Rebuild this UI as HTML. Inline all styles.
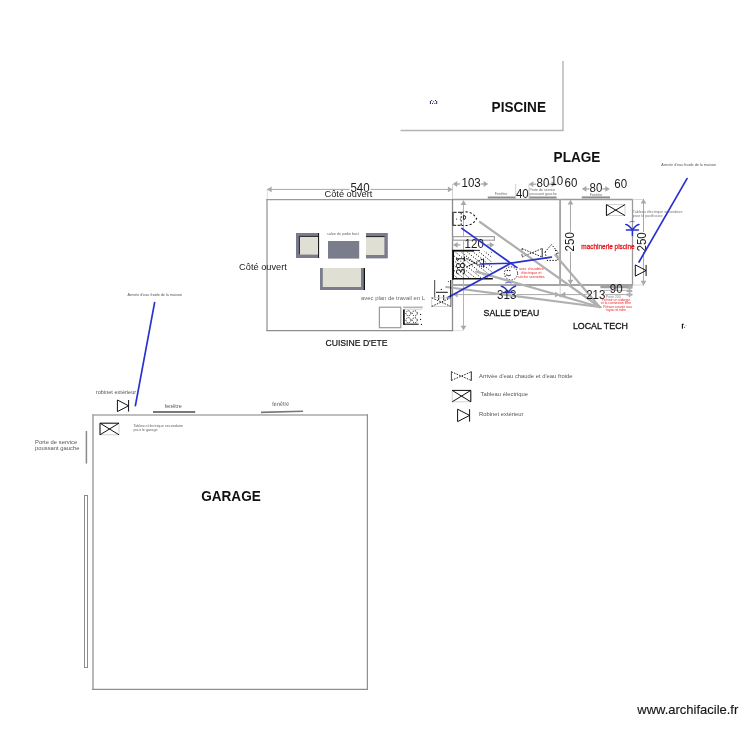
<!DOCTYPE html>
<html lang="fr"><head><meta charset="utf-8"><title>Plan - archifacile</title>
<style>
html,body{margin:0;padding:0;background:#fff;}
body{width:750px;height:750px;overflow:hidden;}
svg{display:block;will-change:transform;}
svg text{font-family:"Liberation Sans",Arial,sans-serif;}
</style></head><body>
<svg width="750" height="750" viewBox="0 0 750 750">
<rect width="750" height="750" fill="#ffffff"/>
<line x1="563" y1="61" x2="563" y2="131" stroke="#b4b4b4" stroke-width="1.4" />
<line x1="400.5" y1="130.5" x2="563.5" y2="130.5" stroke="#b4b4b4" stroke-width="1.4" />
<text transform="translate(518.8 112) scale(0.93 1)" font-size="14.62" fill="#111" text-anchor="middle" font-weight="bold" >PISCINE</text>
<g fill="#1c1c96"><rect x="429.9" y="101" width="1" height="3"/><rect x="436.2" y="101" width="1" height="3"/><rect x="431.2" y="100" width="1" height="1"/><rect x="435" y="100" width="1" height="1"/><rect x="433.1" y="101.2" width="1" height="1"/><rect x="432" y="103" width="1" height="1"/><rect x="434.3" y="103" width="1" height="1"/></g>
<text transform="translate(577 161.8) scale(0.93 1)" font-size="14.62" fill="#111" text-anchor="middle" font-weight="bold" >PLAGE</text>
<line x1="267" y1="199" x2="267" y2="331.1" stroke="#a6a6a6" stroke-width="1.5" />
<line x1="266.3" y1="199.6" x2="453" y2="199.6" stroke="#9a9a9a" stroke-width="1.3" />
<line x1="266.3" y1="330.6" x2="453" y2="330.6" stroke="#8e8e8e" stroke-width="1.1" />
<line x1="452.5" y1="330.6" x2="463.5" y2="330.6" stroke="#d4d4d4" stroke-width="0.7" />
<line x1="267" y1="189.4" x2="452.5" y2="189.4" stroke="#a8a8a8" stroke-width="1" />
<polygon points="267,189.4 271.60,186.50 271.60,192.30" fill="#a8a8a8"/>
<polygon points="452.5,189.4 447.90,192.30 447.90,186.50" fill="#a8a8a8"/>
<line x1="267.3" y1="189.5" x2="267.3" y2="199" stroke="#c8c8c8" stroke-width="0.6" />
<line x1="452.5" y1="184" x2="452.5" y2="200" stroke="#c4c4c4" stroke-width="0.8" />
<rect x="349.6" y="183" width="20.8" height="9.5" fill="#fff" stroke="none" stroke-width="1" />
<text transform="translate(360 192.3) scale(0.95 1)" font-size="12.11" fill="#1c1c1c" text-anchor="middle" font-weight="normal" >540</text>
<text transform="translate(348.4 196.8) scale(0.95 1)" font-size="9.74" fill="#1c1c1c" text-anchor="middle" font-weight="normal" >Côté ouvert</text>
<text transform="translate(263 269.6) scale(0.95 1)" font-size="9.74" fill="#1c1c1c" text-anchor="middle" font-weight="normal" >Côté ouvert</text>
<text transform="translate(356.5 346.2) scale(0.89 1)" font-size="9.72" fill="#111" text-anchor="middle" font-weight="normal"  stroke="#111" stroke-width="0.2">CUISINE D'ETE</text>
<rect x="296" y="233" width="22.8" height="25" fill="#7a7c8e" stroke="none" stroke-width="1" />
<rect x="299.4" y="236.4" width="18.6" height="18.2" fill="#dfdfd3" stroke="none" stroke-width="1" />
<path d="M299.4 254.4 V236.4 H318.4" fill="none" stroke="#15151c" stroke-width="0.9"/>
<line x1="318.6" y1="233" x2="318.6" y2="258" stroke="#111" stroke-width="1" />
<rect x="366" y="233" width="21.8" height="25.4" fill="#7a7c8e" stroke="none" stroke-width="1" />
<rect x="366" y="236.8" width="18.4" height="18.2" fill="#dfdfd3" stroke="none" stroke-width="1" />
<line x1="366" y1="236.6" x2="384.6" y2="236.6" stroke="#15151c" stroke-width="0.9" />
<rect x="328" y="241" width="31.2" height="17.6" fill="#7a7d8c" stroke="none" stroke-width="1" />
<rect x="320" y="268" width="44.8" height="22" fill="#7a7c8e" stroke="none" stroke-width="1" />
<rect x="322.8" y="268" width="38.2" height="19" fill="#dfdfd3" stroke="none" stroke-width="1" />
<line x1="364.4" y1="268" x2="364.4" y2="290" stroke="#111" stroke-width="1.2" />
<text transform="translate(343 235.2) scale(0.95 1)" font-size="3.89" fill="#666" text-anchor="middle" font-weight="normal" >salon de jardin bast</text>
<text transform="translate(393 300.3) scale(0.95 1)" font-size="6.21" fill="#666" text-anchor="middle" font-weight="normal" >avec plan de travail en L</text>
<rect x="379.4" y="307.2" width="21.4" height="20.5" fill="#fff" stroke="#9a9a9a" stroke-width="1.2" />
<line x1="403.1" y1="307.2" x2="422.8" y2="307.2" stroke="#909090" stroke-width="1" />
<line x1="403.4" y1="309.2" x2="422.2" y2="309.2" stroke="#c4c4c4" stroke-width="0.8" />
<line x1="403.9" y1="309.4" x2="403.9" y2="324.8" stroke="#111" stroke-width="1.7" />
<line x1="403.4" y1="324.2" x2="418.6" y2="324.2" stroke="#111" stroke-width="1.1" />
<g fill="none" stroke="#111" stroke-width="0.95" stroke-dasharray="1.2 1.1"><circle cx="408.4" cy="313.3" r="2.5"/><circle cx="414.8" cy="313.3" r="2.5"/><circle cx="408.4" cy="320.2" r="2.5"/><circle cx="414.8" cy="320.2" r="2.5"/></g>
<g fill="#111"><circle cx="420.6" cy="314.4" r="0.6"/><circle cx="420.6" cy="319.4" r="0.6"/><circle cx="421.4" cy="324.4" r="0.6"/></g>
<line x1="452.6" y1="199.5" x2="633" y2="199.5" stroke="#9a9a9a" stroke-width="1.3" />
<line x1="452.5" y1="199" x2="452.5" y2="331.1" stroke="#8c8c8c" stroke-width="1.3" />
<line x1="452" y1="284.9" x2="633" y2="284.9" stroke="#a4a4a4" stroke-width="2" />
<line x1="560.1" y1="199" x2="560.1" y2="285.5" stroke="#a6a6a6" stroke-width="1.9" />
<line x1="560.2" y1="285" x2="560.2" y2="298" stroke="#c8c8c8" stroke-width="0.8" />
<line x1="632.5" y1="199" x2="632.5" y2="285.5" stroke="#9a9a9a" stroke-width="1.3" />
<line x1="487.8" y1="197.5" x2="515.6" y2="197.5" stroke="#8e8e8e" stroke-width="2" />
<text transform="translate(501 195.2) scale(0.95 1)" font-size="3.79" fill="#6a6a6a" text-anchor="middle" font-weight="normal" >Fenêtre</text>
<line x1="529.2" y1="197.5" x2="556.6" y2="197.5" stroke="#8e8e8e" stroke-width="2" />
<text transform="translate(529.4 191) scale(0.95 1)" font-size="3.79" fill="#6a6a6a" text-anchor="start" font-weight="normal" >Porte de service</text>
<text transform="translate(529.4 195) scale(0.95 1)" font-size="3.79" fill="#6a6a6a" text-anchor="start" font-weight="normal" >poussant gauche</text>
<line x1="581.8" y1="197.4" x2="610" y2="197.4" stroke="#8e8e8e" stroke-width="2" />
<text transform="translate(596 196) scale(0.95 1)" font-size="3.79" fill="#6a6a6a" text-anchor="middle" font-weight="normal" >Fenêtre</text>
<line x1="515.7" y1="184" x2="515.7" y2="199" stroke="#c4c4c4" stroke-width="0.8" />
<line x1="529" y1="183.5" x2="529" y2="199" stroke="#c4c4c4" stroke-width="0.8" />
<polygon points="452.7,184 457.30,181.10 457.30,186.90" fill="#a8a8a8"/>
<line x1="454.7" y1="184" x2="460.2" y2="184.0" stroke="#a8a8a8" stroke-width="1.3" />
<polygon points="488.2,184 483.60,186.90 483.60,181.10" fill="#a8a8a8"/>
<line x1="486.2" y1="184" x2="480.7" y2="184.0" stroke="#a8a8a8" stroke-width="1.3" />
<text transform="translate(471.1 186.8125) scale(0.95 1)" font-size="12.11" fill="#1c1c1c" text-anchor="middle" font-weight="normal" >103</text>
<text transform="translate(522.3 197.7) scale(0.95 1)" font-size="12.11" fill="#1c1c1c" text-anchor="middle" font-weight="normal" >40</text>
<polygon points="528.8,184.2 533.40,181.30 533.40,187.10" fill="#a8a8a8"/>
<line x1="530.8" y1="184.2" x2="536.3" y2="184.2" stroke="#a8a8a8" stroke-width="1.3" />
<polygon points="556.2,184.2 551.60,187.10 551.60,181.30" fill="#a8a8a8"/>
<line x1="554.2" y1="184.2" x2="548.7" y2="184.2" stroke="#a8a8a8" stroke-width="1.3" />
<text transform="translate(543 187.0125) scale(0.95 1)" font-size="12.11" fill="#1c1c1c" text-anchor="middle" font-weight="normal" >80</text>
<text transform="translate(556.8 184.5) scale(0.95 1)" font-size="12.11" fill="#1c1c1c" text-anchor="middle" font-weight="normal" >10</text>
<text transform="translate(571 186.8) scale(0.95 1)" font-size="12.11" fill="#1c1c1c" text-anchor="middle" font-weight="normal" >60</text>
<polygon points="581.8,188.9 586.40,186.00 586.40,191.80" fill="#a8a8a8"/>
<line x1="583.8" y1="188.9" x2="589.3" y2="188.9" stroke="#a8a8a8" stroke-width="1.3" />
<polygon points="609.9,188.9 605.30,191.80 605.30,186.00" fill="#a8a8a8"/>
<line x1="607.9" y1="188.9" x2="602.4" y2="188.9" stroke="#a8a8a8" stroke-width="1.3" />
<text transform="translate(596 191.8125) scale(0.95 1)" font-size="12.11" fill="#1c1c1c" text-anchor="middle" font-weight="normal" >80</text>
<text transform="translate(620.7 188) scale(0.95 1)" font-size="12.11" fill="#1c1c1c" text-anchor="middle" font-weight="normal" >60</text>
<line x1="463.5" y1="200.5" x2="463.5" y2="330" stroke="#b4b4b4" stroke-width="1" />
<polygon points="463.5,200.3 466.40,204.90 460.60,204.90" fill="#a8a8a8"/>
<polygon points="463.5,330.3 460.60,325.70 466.40,325.70" fill="#a8a8a8"/>
<g fill="none" stroke="#111" stroke-width="1"><path d="M461 212.3 H453.2 M453.2 225.3 H461" stroke-dasharray="3 1.4"/><path d="M453 211.9 V225.6"/><path d="M461.2 212.6 V225" stroke-dasharray="1.8 1.8"/><path d="M461.4 212.4 C468 210.6 474 213.4 476.6 218.6 C474 224 468 226.6 461.4 225.2" stroke-width="1.1" stroke-dasharray="2.1 2.1"/></g>
<path d="M463.4 215.6 q2.6 -0.4 2.2 2.2 q-0.4 2.4 -2.2 1.4 z" fill="none" stroke="#111" stroke-width="0.9"/>
<circle cx="456.6" cy="219" r="0.6" fill="#111"/><circle cx="460.4" cy="219" r="0.6" fill="#111"/>
<rect x="453" y="236.6" width="41.4" height="3.6" fill="#fff" stroke="#a2a2a2" stroke-width="1.2" />
<polygon points="453,244.9 457.60,242.00 457.60,247.80" fill="#a8a8a8"/>
<line x1="455" y1="244.9" x2="460.5" y2="244.9" stroke="#a8a8a8" stroke-width="1.3" />
<polygon points="494.4,244.9 489.80,247.80 489.80,242.00" fill="#a8a8a8"/>
<line x1="492.4" y1="244.9" x2="486.9" y2="244.9" stroke="#a8a8a8" stroke-width="1.3" />
<text transform="translate(474.2 248.0125) scale(0.95 1)" font-size="12.11" fill="#1c1c1c" text-anchor="middle" font-weight="normal" >120</text>
<defs><clipPath id="shw"><rect x="454" y="251.6" width="38" height="26.6"/></clipPath></defs>
<g clip-path="url(#shw)" stroke="#111" stroke-width="1" stroke-dasharray="1.1 1.7">
<line x1="418" y1="251" x2="452.6" y2="279" stroke-dashoffset="0.0"/>
<line x1="424" y1="251" x2="458.6" y2="279" stroke-dashoffset="1.3"/>
<line x1="430" y1="251" x2="464.6" y2="279" stroke-dashoffset="2.6"/>
<line x1="436" y1="251" x2="470.6" y2="279" stroke-dashoffset="1.1"/>
<line x1="442" y1="251" x2="476.6" y2="279" stroke-dashoffset="2.4"/>
<line x1="448" y1="251" x2="482.6" y2="279" stroke-dashoffset="0.9"/>
<line x1="454" y1="251" x2="488.6" y2="279" stroke-dashoffset="2.2"/>
<line x1="460" y1="251" x2="494.6" y2="279" stroke-dashoffset="0.7"/>
<line x1="466" y1="251" x2="500.6" y2="279" stroke-dashoffset="2.0"/>
<line x1="472" y1="251" x2="506.6" y2="279" stroke-dashoffset="0.5"/>
<line x1="478" y1="251" x2="512.6" y2="279" stroke-dashoffset="1.8"/>
<line x1="484" y1="251" x2="518.6" y2="279" stroke-dashoffset="0.3"/>
<line x1="490" y1="251" x2="524.6" y2="279" stroke-dashoffset="1.6"/>
</g>
<g stroke="#111" stroke-width="1.1" stroke-dasharray="1.6 1.1"><line x1="466.3" y1="258.6" x2="483.5" y2="267.2"/><line x1="466.3" y1="267.2" x2="483.5" y2="258.6"/></g>
<line x1="453.1" y1="250" x2="453.1" y2="279.5" stroke="#111" stroke-width="1.8" />
<line x1="452.3" y1="250.7" x2="474" y2="250.7" stroke="#111" stroke-width="1.8" />
<line x1="474" y1="250.4" x2="480" y2="250.4" stroke="#111" stroke-width="0.9" />
<line x1="452.3" y1="278.8" x2="492.8" y2="278.8" stroke="#111" stroke-width="1.6" />
<line x1="483.5" y1="258.8" x2="483.5" y2="267.4" stroke="#111" stroke-width="0.9" />
<text transform="translate(464.9,265.5) rotate(-90) scale(0.95 1)" font-size="12.11" fill="#1c1c1c" text-anchor="middle">381</text>
<g fill="none" stroke="#111" stroke-width="0.9"><path d="M522 248.6 L542 257 M522 257 L542 248.6 M522 248.6 V257" stroke-dasharray="1.6 1.2"/><line x1="542.2" y1="248.2" x2="542.2" y2="257.4"/></g>
<g fill="none" stroke="#111" stroke-width="1" stroke-dasharray="1.4 1.5"><path d="M545 252 L551.5 244.6 L558 252 L557.6 260.4 L547 260.4 Z"/></g>
<circle cx="555.6" cy="250.4" r="0.7" fill="#111"/><circle cx="556.4" cy="254" r="0.7" fill="#111"/>
<g fill="none" stroke="#111" stroke-width="1" stroke-dasharray="1.3 1.5"><circle cx="511" cy="273.4" r="6.6"/></g>
<circle cx="507.4" cy="270.4" r="0.7" fill="#111"/><circle cx="509.8" cy="270.6" r="0.7" fill="#111"/><path d="M505.8 275.4 q1 -1 2 0 q1 1 2 0 q0.6 -0.6 1.2 0" fill="none" stroke="#111" stroke-width="0.9"/>
<line x1="453" y1="294.6" x2="632.4" y2="294.6" stroke="#a8a8a8" stroke-width="1" />
<polygon points="453,294.6 457.60,291.70 457.60,297.50" fill="#a8a8a8"/>
<polygon points="559.6,294.6 555.00,297.50 555.00,291.70" fill="#a8a8a8"/>
<polygon points="560.8,294.6 565.40,291.70 565.40,297.50" fill="#a8a8a8"/>
<rect x="497" y="291.5" width="19.6" height="6.5" fill="#fff" stroke="none" stroke-width="1" />
<rect x="586.6" y="291.5" width="18.6" height="6.5" fill="#fff" stroke="none" stroke-width="1" />
<line x1="480" y1="222" x2="599.7" y2="307" stroke="#b0b0b0" stroke-width="2.2" stroke-linecap="round"/>
<line x1="555.3" y1="255" x2="599.7" y2="307" stroke="#b0b0b0" stroke-width="2.2" stroke-linecap="round"/>
<line x1="476.3" y1="271.6" x2="599.7" y2="307" stroke="#b0b0b0" stroke-width="2.2" stroke-linecap="round"/>
<line x1="446.3" y1="287" x2="599.7" y2="307" stroke="#b0b0b0" stroke-width="2.2" stroke-linecap="round"/>
<line x1="461.8" y1="228.4" x2="517" y2="267.6" stroke="#2932d0" stroke-width="1.7" stroke-linecap="round"/>
<line x1="480.4" y1="264" x2="511" y2="263.2" stroke="#2932d0" stroke-width="1.7" stroke-linecap="round"/>
<line x1="511" y1="263.2" x2="551.4" y2="257.2" stroke="#2932d0" stroke-width="1.7" stroke-linecap="round"/>
<line x1="447.4" y1="297.8" x2="511" y2="263.2" stroke="#2932d0" stroke-width="1.7" stroke-linecap="round"/>
<g fill="none" stroke="#2932d0" stroke-width="1.5" stroke-linecap="round"><path d="M625.8 224.4 Q629.0 225 632.4 230 Q635.8 225 639.0 224.4"/><line x1="626.4" y1="230" x2="638.4" y2="230"/><line x1="632.4" y1="230" x2="632.4" y2="235.4"/><path d="M629.8 222 q2.6 -1.4 5.2 0" stroke-width="0.7" stroke-dasharray="0.9 0.9"/></g>
<g fill="none" stroke="#2932d0" stroke-width="1.5" stroke-linecap="round"><path d="M501.4 286.2 Q505 287 508.4 292.2 Q511.8 287 515.4 286.2"/><line x1="503.6" y1="292.6" x2="513.2" y2="292.6"/><path d="M505.6 283 q2.8 -1.2 5.6 0" stroke-width="0.8" stroke-dasharray="1 0.8"/></g>
<text transform="translate(531.4 270.2) scale(0.95 1)" font-size="3.89" fill="#e8262a" text-anchor="middle" font-weight="normal" >avec chaudière</text>
<text transform="translate(531.4 274.2) scale(0.95 1)" font-size="3.89" fill="#e8262a" text-anchor="middle" font-weight="normal" >électrique et</text>
<text transform="translate(531.4 278.2) scale(0.95 1)" font-size="3.89" fill="#e8262a" text-anchor="middle" font-weight="normal" >sèche serviettes</text>
<text transform="translate(608 249.3) scale(0.95 1)" font-size="6.79" fill="#e0141a" text-anchor="middle" font-weight="normal"  stroke="#e0141a" stroke-width="0.25">machinerie piscine</text>
<text transform="translate(506.7 298.6) scale(0.95 1)" font-size="12.11" fill="#1c1c1c" text-anchor="middle" font-weight="normal" >313</text>
<line x1="600.4" y1="287" x2="632.4" y2="287" stroke="#a0a0a0" stroke-width="2.6" />
<line x1="604" y1="290.4" x2="631" y2="290.4" stroke="#bdbdbd" stroke-width="1.2" />
<line x1="626.6" y1="287.4" x2="632.3" y2="287.4" stroke="#a6a6a6" stroke-width="2.4" />
<line x1="626.6" y1="291" x2="632.3" y2="291" stroke="#b0b0b0" stroke-width="2.2" />
<line x1="626.6" y1="294.6" x2="632.3" y2="294.6" stroke="#b0b0b0" stroke-width="2.2" />
<line x1="629.6" y1="286" x2="629.6" y2="297.4" stroke="#b0b0b0" stroke-width="1.6" />
<text transform="translate(613.2 298.2) scale(0.95 1)" font-size="3.58" fill="#8a8a8a" text-anchor="middle" font-weight="normal" >Porte 200</text>
<text transform="translate(595.8 298.5) scale(0.95 1)" font-size="12.11" fill="#1c1c1c" text-anchor="middle" font-weight="normal" >213</text>
<text transform="translate(616.2 292.9) scale(0.95 1)" font-size="12.11" fill="#1c1c1c" text-anchor="middle" font-weight="normal" >90</text>
<text transform="translate(616 300.8) scale(0.95 1)" font-size="3.58" fill="#e8262a" text-anchor="middle" font-weight="normal" >Prévoir un vidange</text>
<text transform="translate(616 304.0) scale(0.95 1)" font-size="3.58" fill="#e8262a" text-anchor="middle" font-weight="normal" >et la connexion filtre</text>
<text transform="translate(616 308.1) scale(0.95 1)" font-size="3.58" fill="#e8262a" text-anchor="middle" font-weight="normal" >+ Prévoir arrivée eau</text>
<text transform="translate(616 310.8) scale(0.95 1)" font-size="3.58" fill="#e8262a" text-anchor="middle" font-weight="normal" >tuyau et tube</text>
<text transform="translate(511.4 316.1) scale(0.89 1)" font-size="9.83" fill="#111" text-anchor="middle" font-weight="normal"  stroke="#111" stroke-width="0.3">SALLE D'EAU</text>
<text transform="translate(600.4 328.9) scale(0.89 1)" font-size="9.94" fill="#111" text-anchor="middle" font-weight="normal"  stroke="#111" stroke-width="0.3">LOCAL TECH</text>
<line x1="570.5" y1="200" x2="570.5" y2="284.4" stroke="#a8a8a8" stroke-width="1" />
<polygon points="570.5,200 573.40,204.60 567.60,204.60" fill="#a8a8a8"/>
<polygon points="570.5,284.4 567.60,279.80 573.40,279.80" fill="#a8a8a8"/>
<rect x="564.5" y="231.8" width="11" height="20" fill="#fff" stroke="none" stroke-width="1" />
<text transform="translate(573.7125000000001,241.8) rotate(-90) scale(0.95 1)" font-size="12.11" fill="#1c1c1c" text-anchor="middle">250</text>
<line x1="632.5" y1="199.5" x2="644" y2="199.5" stroke="#cfcfcf" stroke-width="0.8" />
<line x1="632.5" y1="285" x2="644" y2="285" stroke="#cfcfcf" stroke-width="0.8" />
<line x1="643.5" y1="198.9" x2="643.5" y2="285.4" stroke="#a8a8a8" stroke-width="1" />
<polygon points="643.5,198.9 646.40,203.50 640.60,203.50" fill="#a8a8a8"/>
<polygon points="643.5,285.4 640.60,280.80 646.40,280.80" fill="#a8a8a8"/>
<rect x="637.5" y="231.9" width="11" height="20" fill="#fff" stroke="none" stroke-width="1" />
<text transform="translate(645.5125,241.9) rotate(-90) scale(0.95 1)" font-size="12.11" fill="#1c1c1c" text-anchor="middle">250</text>
<rect x="606.4" y="204.6" width="18.6" height="11" fill="none" stroke="#c9c9c9" stroke-width="0.8" />
<path d="M606.4 204.6 L625.0 215.6 M606.4 215.6 L625.0 204.6 M606.4 204.6 V215.6" stroke="#111" stroke-width="1" fill="none"/>
<text transform="translate(632.8 212.6) scale(0.95 1)" font-size="3.95" fill="#777" text-anchor="start" font-weight="normal" >Tableau électrique secondaire</text>
<text transform="translate(632.8 216.8) scale(0.95 1)" font-size="3.95" fill="#777" text-anchor="start" font-weight="normal" >pour le poolhouse</text>
<path d="M635.3 264.9 V276.09999999999997 L646.0999999999999 270.5 Z M646.0999999999999 264.9 V276.09999999999997" stroke="#111" stroke-width="1" fill="none"/>
<line x1="687" y1="178.6" x2="639" y2="262" stroke="#2932d0" stroke-width="1.7" stroke-linecap="round"/>
<text transform="translate(688.6 165.8) scale(0.95 1)" font-size="3.95" fill="#555" text-anchor="middle" font-weight="normal" >Arrivée d'eau froide de la maison</text>
<line x1="434.7" y1="280" x2="434.7" y2="298" stroke="#444" stroke-width="1" />
<line x1="450.7" y1="280" x2="450.7" y2="306.4" stroke="#111" stroke-width="1.1" />
<line x1="436" y1="292.3" x2="447.8" y2="292.3" stroke="#111" stroke-width="1" />
<circle cx="441.3" cy="289.4" r="0.6" fill="#111"/><circle cx="448.4" cy="281.6" r="0.5" fill="#111"/>
<line x1="438.7" y1="295" x2="438.7" y2="300" stroke="#111" stroke-width="1" />
<line x1="443.7" y1="295" x2="443.7" y2="300" stroke="#111" stroke-width="1" />
<rect x="431.7" y="297.8" width="19" height="8.6" fill="none" stroke="#c9c9c9" stroke-width="0.8" />
<path d="M431.7 297.8 L450.7 306.4 M431.7 306.4 L450.7 297.8" stroke="#111" stroke-width="0.9" stroke-dasharray="1.6 1.2" fill="none"/>
<path d="M682.4 328.8 V324.2 H683.8" stroke="#111" stroke-width="1.1" fill="none"/><circle cx="684.6" cy="327.2" r="0.5" fill="#111"/><circle cx="686" cy="325.6" r="0.4" fill="#444"/>
<g fill="none" stroke="#111" stroke-width="0.9"><path d="M451.4 371.8 L471.2 380.4 M451.4 380.4 L471.2 371.8" stroke-dasharray="1.6 1.2"/><line x1="451.4" y1="371.4" x2="451.4" y2="380.8" stroke="#333"/><line x1="471.3" y1="371.4" x2="471.3" y2="380.8"/></g>
<text transform="translate(479 377.7) scale(0.95 1)" font-size="6.16" fill="#555" text-anchor="start" font-weight="normal" >Arrivée d'eau chaude et d'eau froide</text>
<rect x="452.2" y="390.4" width="18.6" height="11.4" fill="none" stroke="#c9c9c9" stroke-width="0.8" />
<path d="M452.2 390.4 L470.8 401.79999999999995 M452.2 401.79999999999995 L470.8 390.4 M452.2 390.4 H470.8 M470.8 390.4 V401.79999999999995" stroke="#111" stroke-width="1" fill="none"/>
<text transform="translate(480.6 396.2) scale(0.95 1)" font-size="6.16" fill="#555" text-anchor="start" font-weight="normal" >Tableau électrique</text>
<path d="M457.6 409.2 V421.59999999999997 L469.6 415.4 Z M469.6 409.2 V421.59999999999997" stroke="#111" stroke-width="1" fill="none"/>
<text transform="translate(479 416.2) scale(0.95 1)" font-size="6.16" fill="#555" text-anchor="start" font-weight="normal" >Robinet extérieur</text>
<line x1="93" y1="414.2" x2="93" y2="689.9" stroke="#acacac" stroke-width="1.7" />
<line x1="92.2" y1="415" x2="368" y2="415" stroke="#a8a8a8" stroke-width="1.6" />
<line x1="367.4" y1="414.2" x2="367.4" y2="689.9" stroke="#909090" stroke-width="1.2" />
<line x1="92.2" y1="689.4" x2="368" y2="689.4" stroke="#8e8e8e" stroke-width="1.1" />
<text transform="translate(231 501.2) scale(0.93 1)" font-size="14.62" fill="#111" text-anchor="middle" font-weight="bold" >GARAGE</text>
<rect x="100" y="423.2" width="19" height="11.6" fill="none" stroke="#c9c9c9" stroke-width="0.8" />
<path d="M100 423.2 L119 434.8 M100 434.8 L119 423.2 M100 423.2 V434.8 M100 423.2 H119" stroke="#111" stroke-width="1" fill="none"/>
<text transform="translate(133.4 426.8) scale(0.95 1)" font-size="3.95" fill="#666" text-anchor="start" font-weight="normal" font-family='"Liberation Serif",serif' >Tableau électrique secondaire</text>
<text transform="translate(133.4 430.6) scale(0.95 1)" font-size="3.95" fill="#666" text-anchor="start" font-weight="normal" font-family='"Liberation Serif",serif' >pour le garage</text>
<text transform="translate(35 444) scale(0.95 1)" font-size="6.16" fill="#555" text-anchor="start" font-weight="normal" >Porte de service</text>
<text transform="translate(35 450.4) scale(0.95 1)" font-size="6.16" fill="#555" text-anchor="start" font-weight="normal" >poussant gauche</text>
<line x1="86.4" y1="431" x2="86.4" y2="463.6" stroke="#8a8a8a" stroke-width="1.5" />
<rect x="84.5" y="495.5" width="3" height="172" fill="none" stroke="#8c8c8c" stroke-width="1" />
<line x1="153" y1="412" x2="195.2" y2="412" stroke="#777" stroke-width="1.8" />
<text transform="translate(173.2 407.8) scale(0.95 1)" font-size="5.79" fill="#555" text-anchor="middle" font-weight="normal" >fenêtre</text>
<g transform="rotate(-1.5 282 412)">
<line x1="261" y1="411.8" x2="303" y2="411.8" stroke="#777" stroke-width="1.6" />
<text transform="translate(281 405.8) scale(0.95 1)" font-size="5.79" fill="#555" text-anchor="middle" font-weight="normal" >fenêtre</text>
</g>
<path d="M117.4 400 V411.6 L128.6 405.8 Z M128.6 400 V411.6" stroke="#111" stroke-width="1" fill="none"/>
<text transform="translate(116 393.8) scale(0.95 1)" font-size="5.89" fill="#555" text-anchor="middle" font-weight="normal" >robinet extérieur</text>
<line x1="154.6" y1="302.6" x2="135.4" y2="405.6" stroke="#2932d0" stroke-width="1.7" stroke-linecap="round"/>
<text transform="translate(154.7 295.8) scale(0.95 1)" font-size="3.95" fill="#555" text-anchor="middle" font-weight="normal" >Arrivée d'eau froide de la maison</text>
<text transform="translate(687.8 713.6) scale(0.95 1)" font-size="13.68" fill="#151515" text-anchor="middle" font-weight="normal"  stroke="#151515" stroke-width="0.15">www.archifacile.fr</text>
</svg></body></html>
